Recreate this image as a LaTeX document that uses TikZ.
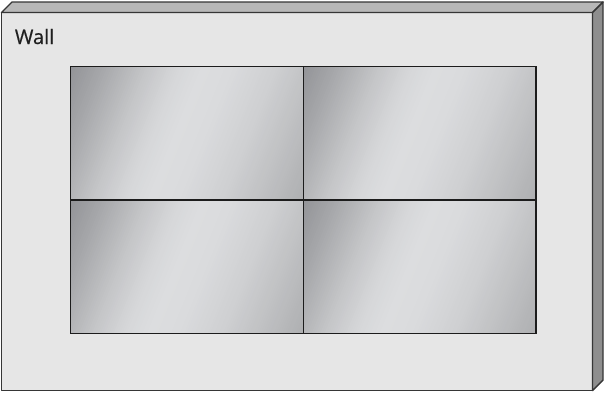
\documentclass[tikz,border=0pt]{standalone}
\usepackage{fontspec}
\newfontfamily\labelfont[FakeBold=0.5]{Open Sans}
\usepackage{xcolor}
\definecolor{ink}{HTML}{363636}
\definecolor{bezel}{HTML}{1C1C1C}
\definecolor{wallfront}{HTML}{E6E6E6}
\definecolor{walltop}{HTML}{B8B8B8}
\definecolor{wallside}{HTML}{8E8E8E}
\definecolor{glare0}{HTML}{8E8F93}
\definecolor{glare1}{HTML}{A6A7AA}
\definecolor{glare2}{HTML}{C4C5C7}
\definecolor{glare3}{HTML}{D6D7D9}
\definecolor{glare4}{HTML}{DCDDDF}
\definecolor{glare5}{HTML}{DADBDD}
\definecolor{glare6}{HTML}{CFD0D2}
\definecolor{glare7}{HTML}{BCBDBF}
\definecolor{glare8}{HTML}{ABACAE}
\usetikzlibrary{positioning, calc}
\tikzset{
  face/.style={draw=ink, line width=1.4pt, line join=round},
  panel/.style={draw=bezel, line width=1.4pt},
  lbl/.style={font=\labelfont\fontsize{20}{24}\selectfont, text=black!88, anchor=base west, inner sep=0pt},
}

\begin{document}
\begin{tikzpicture}[x=1pt, y=-1pt]
  \useasboundingbox (0,0) rectangle (604,392);

  \def\d{10.5}  % depth of the wall
  \def\w{232.5} % one screen
  \def\h{133.3}

  % The wall: front, top and right side.
  \coordinate (fl) at (1.5,12.5);
  \coordinate (fr) at (592.5,12.5);
  \coordinate (br) at (592.5,390.5);
  \coordinate (bl) at (1.5,390.5);
  \fill[wallfront] (fl) rectangle (br);
  \draw[face, fill=walltop] (fl) -- ++(\d,-\d) -- ($(fr)+(\d,-\d)$) -- (fr) -- cycle;
  \draw[face, fill=wallside] (fr) -- ++(\d,-\d) -- ($(br)+(\d,-\d)$) -- (br) -- cycle;
  \draw[face] (fl) rectangle (br);

  \node[lbl] (wall-label) at (14.7,44) {Wall};

  % The 2 x 2 video wall: glare as thin slanted strips, then the bezels.
  \foreach \col/\x in {0/70.7, 1/303.3}
    \foreach \row/\y in {0/66.7, 1/200} {
      \coordinate (screen-\col\row) at (\x,\y);
      \begin{scope}
        \clip (screen-\col\row) rectangle ++(\w,\h);
        \begin{scope}[shift={($(screen-\col\row)+(\w/2,\h/2)$)}, rotate=-22.1]
          \foreach \ua/\ub/\ca/\cb in {-140/-103/glare0/glare1, -103/-63/glare1/glare2,
              -63/-33/glare2/glare3, -33/-10/glare3/glare4, -10/17/glare4/glare5,
              17/57/glare5/glare6, 57/102/glare6/glare7, 102/140/glare7/glare8} {
            \pgfmathsetmacro\nstrip{int(((\ub)-(\ua))/2)}
            \pgfmathsetmacro\du{((\ub)-(\ua))/\nstrip}
            \foreach \k in {1,...,\nstrip} {
              \pgfmathsetmacro\p{100*(\k-0.5)/\nstrip}
              \pgfmathsetmacro\uu{(\ua)+(\k-1)*\du}
              \fill[\cb!\p!\ca] (\uu,-110) rectangle ++(\du+0.6,220);
            }
          }
        \end{scope}
      \end{scope}
      \draw[panel] (screen-\col\row) rectangle ++(\w,\h);
    }
\end{tikzpicture}
\end{document}
